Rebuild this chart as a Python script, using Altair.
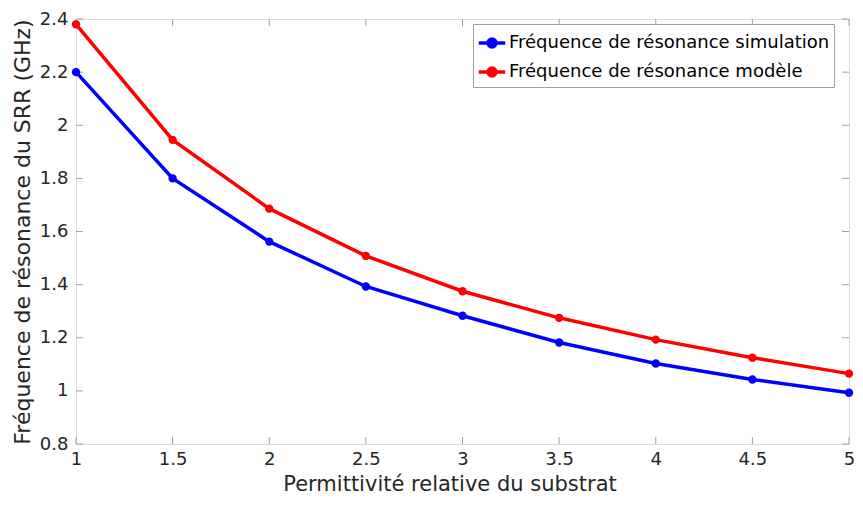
import altair as alt
import pandas as pd

x_vals = [1, 1.5, 2, 2.5, 3, 3.5, 4, 4.5, 5]
sim_vals = [2.20, 1.80, 1.562, 1.393, 1.283, 1.182, 1.103, 1.043, 0.993]
model_vals = [2.38, 1.945, 1.686, 1.508, 1.375, 1.275, 1.193, 1.125, 1.065]
series_names = ["Fréquence de résonance simulation", "Fréquence de résonance modèle"]
series_colors = ["#0000FF", "#FF0000"]
x_ticks = [1, 1.5, 2, 2.5, 3, 3.5, 4, 4.5, 5]
y_ticks = [0.8, 1, 1.2, 1.4, 1.6, 1.8, 2, 2.2, 2.4]

rows = []
for name, vals in zip(series_names, [sim_vals, model_vals]):
    for xv, yv in zip(x_vals, vals):
        rows.append({"x": xv, "y": yv, "serie": name})
df = pd.DataFrame(rows)

W, H = 773, 425
FONT = "DejaVu Sans"
TXT = "#262626"

xscale = alt.Scale(domain=[1, 5], nice=False, zero=False)
yscale = alt.Scale(domain=[0.8, 2.4], nice=False, zero=False)
color = alt.Color(
    "serie:N",
    scale=alt.Scale(domain=series_names, range=series_colors),
    legend=alt.Legend(
        title=None,
        orient="none",
        legendX=397,
        legendY=5,
        symbolType="M-1,0L1,0M-0.3,0A0.3,0.3 0 1,1 0.3,0A0.3,0.3 0 1,1 -0.3,0Z",
        symbolSize=700,
        symbolStrokeWidth=3.5,
        labelFont=FONT,
        labelFontSize=18,
        labelColor="#000000",
        labelLimit=400,
        rowPadding=3,
        padding=4,
        fillColor="#ffffff",
        strokeColor="#a0a0a0",
        labelOffset=2,
    ),
)

line = alt.Chart(df).mark_line(strokeWidth=3.5, point=alt.OverlayMarkDef(filled=True, size=70)).encode(
    x=alt.X("x:Q", scale=xscale,
            axis=alt.Axis(values=x_ticks, format="~g", title="Permittivité relative du substrat", grid=False,
                          ticks=False, domain=False, labelFont=FONT, labelFontSize=18,
                          labelColor=TXT, labelPadding=6, titleFont=FONT, titleFontSize=21,
                          titleFontWeight="normal", titleColor=TXT, titlePadding=5,
                          titleX=W / 2 - 13, labelFlush=False)),
    y=alt.Y("y:Q", scale=yscale,
            axis=alt.Axis(values=y_ticks, format="~g", title="Fréquence de résonance du SRR (GHz)", grid=False,
                          ticks=False, domain=False, labelFont=FONT, labelFontSize=18,
                          labelColor=TXT, labelPadding=8, titleFont=FONT, titleFontSize=22,
                          titleFontWeight="normal", titleColor=TXT, titlePadding=5,
                          labelFlush=False, labelOverlap=False)),
    color=color,
)

xt = pd.DataFrame({"t": x_ticks})
yt = pd.DataFrame({"t": y_ticks})
tick_col = "#a0a0a0"
xb = alt.Chart(xt).mark_rule(color=tick_col, strokeWidth=1).encode(
    x=alt.X("t:Q", scale=xscale), y=alt.value(H), y2=alt.value(H - 7))
xtop = alt.Chart(xt).mark_rule(color=tick_col, strokeWidth=1).encode(
    x=alt.X("t:Q", scale=xscale), y=alt.value(0), y2=alt.value(7))
yl = alt.Chart(yt).mark_rule(color=tick_col, strokeWidth=1).encode(
    y=alt.Y("t:Q", scale=yscale), x=alt.value(0), x2=alt.value(7))
yr = alt.Chart(yt).mark_rule(color=tick_col, strokeWidth=1).encode(
    y=alt.Y("t:Q", scale=yscale), x=alt.value(W), x2=alt.value(W - 7))

chart = alt.layer(xb, xtop, yl, yr, line).properties(
    width=W, height=H,
    autosize=alt.AutoSizeParams(type="none"),
    padding={"left": 68, "top": 11, "right": 6, "bottom": 50},
).configure_view(stroke="#a0a0a0", strokeWidth=1).configure(background="#ffffff")

chart.save("out.html", embed_options={"renderer": "svg", "actions": False})
